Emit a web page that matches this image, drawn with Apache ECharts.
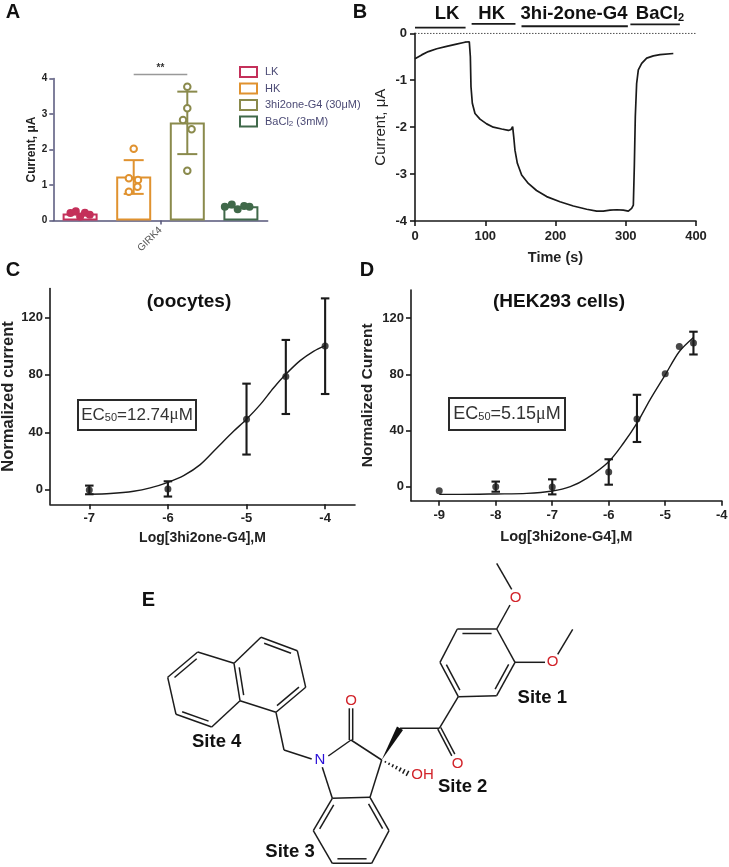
<!DOCTYPE html>
<html>
<head>
<meta charset="utf-8">
<title>GIRK4 figure</title>
<script src="https://cdn.jsdelivr.net/npm/echarts@6/dist/echarts.min.js"></script>
<style>
	html, body {margin:0; padding:0; background:#fff;}
	#main {width:729px; height:867px;}
</style>
</head>
<body>
<div id="main"></div>
<script>
var FONT = '"Liberation Sans", Arial, sans-serif';

// panel A, bar heights and sd
var aNames = ['LK', 'HK', '3hi2one-G4 (30μM)', 'BaCl2 (3mM)'];
var aColors = ['#c4305a', '#e0922f', '#8a8a4c', '#40694a'];
var aMeans = [0.2, 1.24, 2.76, 0.4];
var aErrors = [[], [1.5, 0.75, 1.70], [2.5, 1.87, 3.63], []];
var aPoints = [
	[[0.32, 0.21], [0.42, 0.26], [0.5, 0.11], [0.59, 0.22], [0.68, 0.16]],
	[[1.41, 1.19], [1.5, 2.02], [1.58, 1.14], [1.57, 0.95], [1.41, 0.81]],
	[[2.42, 2.83], [2.5, 3.77], [2.5, 3.16], [2.58, 2.57], [2.5, 1.40]],
	[[3.2, 0.39], [3.33, 0.45], [3.44, 0.32], [3.56, 0.41], [3.66, 0.39]]
];
var aSigBar = [1.5, 2.5, 4.11];
var aCategory = 'GIRK4';

// panel B, current trace [time, current]
var bTrace = [[0,-.54],[9.5,-.46],[19,-.39],[31,-.33],[45,-.28],[59,-.23],[71,-.19],[77.3,-.18],
	[78.8,-.5],[79.7,-1.14],[81.6,-1.49],[85.4,-1.71],[92.5,-1.83],[102,-1.93],[111.5,-2],[123.4,-2.04],
	[133,-2.07],[136.7,-2.05],[139,-1.99],[140.5,-2.2],[142.3,-2.49],[145.7,-2.77],[151.8,-3.02],
	[161.3,-3.2],[173,-3.35],[187.4,-3.48],[206.4,-3.59],[225.4,-3.68],[244.4,-3.75],[258.6,-3.79],
	[268,-3.79],[277.6,-3.77],[287,-3.76],[296.6,-3.77],[303.7,-3.79],[308.4,-3.73],[310.8,-3.66],
	[312.2,-2.84],[313.6,-1.78],[315.5,-1.07],[317.9,-.78],[322.7,-.64],[329.8,-.53],[339.3,-.48],
	[348.8,-.455],[367.7,-.43]];
var bZero = [[0, 0], [400, 0]];
// bars over the trace [from, to, level]
var bPeriods = [[0, 72, 0.12], [80.6, 143, 0.2], [151.6, 303, 0.15], [306.6, 377, 0.19]];

// panel C
var cPoints = [[-7, 0], [-6, 0.7], [-5, 49.1], [-4.5, 78.8], [-4, 100]];
var cErrors = [[-7, -3, 3], [-6, -4.6, 6], [-5, 24.6, 73.9], [-4.5, 52.8, 104.3], [-4, 66.7, 133.2]];
var cCurve = [[-7,-3],[-6.733,-2.5],[-6.436,-.93],[-6.225,1.39],[-6,5.3],[-5.8,9.96],[-5.589,17.6],
	[-5.377,29.2],[-5.165,40.8],[-5,49.1],[-4.826,59.3],[-4.657,70.9],[-4.504,80.2],[-4.318,89.9],
	[-4.148,96.4],[-4,100.4]];
var cXTicks = [-7, -6, -5, -4];
var cYTicks = [0, 40, 80, 120];

// panel D
var dPoints = [[-9,-2.9],[-8,0],[-7,-.2],[-6,10.5],[-5.5,48.2],[-5,80.3],[-4.75,99.8],[-4.5,102.2]];
var dErrors = [[-8,-3.6,3.6],[-7,-5.5,5.2],[-6,1.4,19.5],[-5.5,31.8,65.4],[-4.5,94.1,110.3]];
var dCurve = [[-9,-5.5],[-8.63,-5.5],[-8,-5.2],[-7.45,-4.8],[-7,-3.1],[-6.68,0],[-6.39,5.9],[-6,17.8],
	[-5.74,30.9],[-5.5,45.2],[-5.27,61.8],[-5,79.6],[-4.75,96.2],[-4.5,106.2]];
var dXTicks = [-9, -8, -7, -6, -5, -4];
var dYTicks = [0, 40, 80, 120];

// panel E, structure drawn in its own page-sized coordinate system
var molAtoms = {
	a1:[167.7,677.3], a2:[197.7,652], a3:[234,663.3], a4:[261,637.3], a5:[297.3,650.7], a6:[305.7,687.3],
	a7:[276,712.3], a8:[240,700.7], a9:[211.7,727], a10:[176,714.3], ch2:[284,750], nl:[311.7,759],
	nr:[328.3,756], nb:[322.3,767.3], c2:[351,740], o2:[351,708.3], c3:[381.7,760], c3a:[370,797.3],
	c7a:[332.3,798.3], c7:[313.3,830.7], c6:[332.3,863.3], c5:[371.7,863.3], c4:[389,830.7],
	ch2b:[400,728.3], co:[439.3,728.3], oe:[453.3,755], r1:[458.3,696.7], r2:[440,662.3], r3:[457.3,629],
	r4:[496.7,629], r5:[515,662.3], r6:[496.7,695.7], ot:[510,605], otb:[511.7,589.3], me1:[496.7,563.3],
	om:[545,662.3], omb:[557.7,654.3], me2:[572.7,629.3], oh:[409.3,774.3],
	ringL:[207,689], ringR:[270.5,675], ringB:[351,830], ringM:[478,662]
};
// [from, to, kind, ring]: s single, d double inside ring, c centred double, w wedge, h hash
var molBonds = [
	['a1','a2','d','ringL'],['a2','a3','s'],['a3','a4','s'],['a4','a5','d','ringR'],['a5','a6','s'],
	['a6','a7','d','ringR'],['a7','a8','s'],['a8','a3','d','ringR'],['a8','a9','s'],['a9','a10','d','ringL'],
	['a10','a1','s'],['a7','ch2','s'],['ch2','nl','s'],['nr','c2','s'],['c2','o2','c'],['c2','c3','s'],
	['c3','c3a','s'],['c3a','c7a','s'],['c7a','nb','s'],['c7a','c7','d','ringB'],['c7','c6','s'],
	['c6','c5','d','ringB'],['c5','c4','s'],['c4','c3a','d','ringB'],['c3','ch2b','w'],['ch2b','co','s'],
	['co','oe','c'],['co','r1','s'],['r1','r2','d','ringM'],['r2','r3','s'],['r3','r4','d','ringM'],
	['r4','r5','s'],['r5','r6','d','ringM'],['r6','r1','s'],['r4','ot','s'],['otb','me1','s'],
	['r5','om','s'],['omb','me2','s'],['c3','oh','h']
];
var molLabels = [['N',320,759.5,'#2a10d8'],['O',351,700.5,'#d2232a'],['OH',422.5,775,'#d2232a'],
	['O',457.5,763.5,'#d2232a'],['O',515.7,597.7,'#d2232a'],['O',552.7,662.3,'#d2232a']];

// error bar as a custom series, low and high go through the axis scale
var errorBars = (color, width, cap, xi, yi)=>({
	type:'custom', xAxisIndex:xi, yAxisIndex:yi, silent:true, clip:false, z:4,
	encode:{x:0, y:[1, 2]},
	renderItem:(params, api)=>{
		var lo = api.coord([api.value(0), api.value(1)]);
		var hi = api.coord([api.value(0), api.value(2)]);
		var st = {stroke:color, lineWidth:width};
		var seg = (x1, y1, x2, y2)=>({type:'line', shape:{x1:x1, y1:y1, x2:x2, y2:y2}, style:st});
		return {type:'group', children:[
			seg(lo[0], lo[1], hi[0], hi[1]),
			seg(lo[0]-cap/2, lo[1], lo[0]+cap/2, lo[1]),
			seg(hi[0]-cap/2, hi[1], hi[0]+cap/2, hi[1])
		]};
	}
});

// horizontal segment [from, to, level]
var periodBars = (color, width, xi, yi, data)=>({
	type:'custom', xAxisIndex:xi, yAxisIndex:yi, silent:true, clip:false, data:data,
	encode:{x:[0, 1], y:2},
	renderItem:(params, api)=>{
		var p = api.coord([api.value(0), api.value(2)]);
		var q = api.coord([api.value(1), api.value(2)]);
		return {type:'line', shape:{x1:p[0], y1:p[1], x2:q[0], y2:q[1]}, style:{stroke:color, lineWidth:width}};
	}
});

var axis = (idx, min, max, o)=>{
	var ax = {
		type:'value', gridIndex:idx, min:min, max:max, splitLine:{show:false},
		name:o.name, nameLocation:'middle', nameGap:o.gap,
		nameTextStyle:{fontFamily:FONT, fontWeight:o.nameWeight||'bold', fontSize:o.nameSize, color:o.nameColor||'#222'},
		axisLine:{show:true, onZero:false, lineStyle:{color:o.color||'#1a1a1a', width:o.lw||1.6}},
		axisTick:{show:true, length:o.tick||5, lineStyle:{color:o.color||'#1a1a1a', width:o.lw||1.6}},
		axisLabel:{fontFamily:FONT, fontWeight:o.labelWeight||'bold', fontSize:o.size||13, color:o.labelColor||'#222',
			margin:o.margin, rotate:o.rotate||0, hideOverlap:false}
	};
	if(o.interval)ax.interval = o.interval;
	if(o.ticks){
		ax.axisTick.customValues = o.ticks;
		ax.axisLabel.customValues = o.ticks;
	}
	if(o.formatter)ax.axisLabel.formatter = o.formatter;
	return ax;
};

var txt = (x, y, text, font, fill, rich)=>({
	type:'text', silent:true,
	style:{x:x, y:y, text:text, font:font, fill:fill||'#111', align:'center', verticalAlign:'middle', rich:rich}
});
var subRich = (size, weight, color)=>({sub:{fontFamily:FONT, fontSize:size, fontWeight:weight, fill:color, color:color, verticalAlign:'bottom', padding:[6, 0, 0, 0]}});

var ec50Box = (x, y, w, h, a, b, size)=>([
	{type:'rect', silent:true, shape:{x:x, y:y, width:w, height:h}, style:{fill:'#fff', stroke:'#2a2a2a', lineWidth:2}, z:5},
	{type:'text', silent:true, z:6, style:{x:x+w/2, y:y+h/2, align:'center', verticalAlign:'middle',
		text:'{t|EC}{s|50}{t|='+a+'}{m|μ}{t|'+b+'}',
		rich:{t:{fontFamily:FONT, fontSize:size, fill:'#333', color:'#333'},
			s:{fontFamily:FONT, fontSize:11, fill:'#333', color:'#333', padding:[6, 0, 0, 0]},
			m:{fontFamily:'"Liberation Serif", serif', fontSize:size, fill:'#333', color:'#333'}}}}
]);

var bold = (n)=>'bold '+n+'px '+FONT;

var option = {
	animation:false,
	backgroundColor:'#fff',
	grid:[
		{left:53.3, top:78.5, width:214.4, height:142, outerBoundsMode:'none'},
		{left:415, top:33.3, width:281, height:187.7, outerBoundsMode:'none'},
		{left:50, top:288.6, width:305, height:215.7, outerBoundsMode:'none'},
		{left:411, top:290, width:310.7, height:210.7, outerBoundsMode:'none'},
		{left:0, top:0, width:729, height:867, outerBoundsMode:'none'}
	],
	xAxis:[
		axis(0, 0, 4, {ticks:[2], formatter:()=>aCategory, color:'#55557a', tick:4, size:10, labelWeight:'normal', labelColor:'#555', rotate:45, margin:8, lw:1.5}),
		axis(1, 0, 400, {interval:100, name:'Time (s)', gap:29, nameSize:14.5, margin:9, size:13}),
		axis(2, -7.5, -3.62, {ticks:cXTicks, name:'Log[3hi2one-G4],M', gap:27, nameSize:14, margin:8}),
		axis(3, -9.5, -4, {ticks:dXTicks, name:'Log[3hi2one-G4],M', gap:29, nameSize:14.6, margin:8}),
		{type:'value', gridIndex:4, min:0, max:729, show:false}
	],
	yAxis:[
		axis(0, 0, 4, {interval:1, name:'Current, μA', gap:16, nameSize:12, color:'#55557a', tick:4, size:10, margin:6, lw:1.5}),
		axis(1, -4, 0, {interval:1, name:'Current, μA', gap:27, nameSize:15, nameWeight:'normal', margin:8, size:13}),
		axis(2, -10, 140, {ticks:cYTicks, name:'Normalized current', gap:33, nameSize:16.5, margin:7}),
		axis(3, -10, 140, {ticks:dYTicks, name:'Normalized Current', gap:35, nameSize:15.5, margin:7}),
		{type:'value', gridIndex:4, min:0, max:867, inverse:true, show:false}
	],
	legend:{
		left:239, top:66, padding:0, orient:'vertical', icon:'rect', itemWidth:17, itemHeight:10, itemGap:4.5,
		data:aNames,
		formatter:(n)=>n === 'BaCl2 (3mM)' ? 'BaCl{sub|2} (3mM)' : n,
		textStyle:{fontFamily:FONT, fontSize:11, color:'#4b4a75', padding:[0, 0, 0, 3],
			rich:{sub:{fontFamily:FONT, fontSize:8, color:'#4b4a75', padding:[5, 0, 0, 0]}}}
	},
	graphic:[].concat([
		txt(13, 12, 'A', bold(20)),
		txt(360, 12, 'B', bold(20)),
		txt(13, 270, 'C', bold(20)),
		txt(367, 270, 'D', bold(20)),
		txt(148.5, 600, 'E', bold(20)),
		txt(160.5, 68, '**', bold(10), '#333'),
		txt(447, 14, 'LK', bold(18.5)),
		txt(491.7, 14, 'HK', bold(18.5)),
		txt(574, 14, '3hi-2one-G4', bold(18.5)),
		txt(660, 14, 'BaCl{sub|2}', bold(18.5), '#111', subRich(11, 'bold', '#111')),
		txt(189, 301.5, '(oocytes)', bold(19)),
		txt(559, 301.5, '(HEK293 cells)', bold(19)),
		txt(216.7, 741.5, 'Site 4', bold(18.5)),
		txt(290, 851.5, 'Site 3', bold(18.5)),
		txt(462.7, 786.7, 'Site 2', bold(18.5)),
		txt(542.3, 698.3, 'Site 1', bold(18.5))
	], ec50Box(78, 400, 118, 30, '12.74', 'M', 17), ec50Box(449, 398, 116, 32, '5.15', 'M', 18)),
	series:[]
};

// panel A
aNames.forEach((name, i)=>{
	option.series.push({
		type:'bar', name:name, xAxisIndex:0, yAxisIndex:0, barWidth:35, barGap:'-100%', z:2,
		data:[[i+0.5, aMeans[i]]],
		itemStyle:{color:'#fff', borderColor:aColors[i], borderWidth:2}
	});
	var eb = errorBars(aColors[i], 2, 20, 0, 0);
	eb.data = aErrors[i].length ? [aErrors[i]] : [];
	option.series.push(eb);
	var dense = (i === 0 || i === 3);
	option.series.push({
		type:'scatter', xAxisIndex:0, yAxisIndex:0, symbolSize:dense ? 6 : 6.5, z:5, data:aPoints[i], silent:true,
		itemStyle:{color:dense ? aColors[i] : '#fff', borderColor:aColors[i], borderWidth:2, opacity:1}
	});
});
option.series.push(periodBars('#999', 1.5, 0, 0, [[aSigBar[0], aSigBar[1], aSigBar[2]]]));

// panel B
option.series.push({type:'line', xAxisIndex:1, yAxisIndex:1, data:bTrace, showSymbol:false, silent:true,
	lineStyle:{color:'#1a1a1a', width:1.7}});
option.series.push({type:'line', xAxisIndex:1, yAxisIndex:1, data:bZero, showSymbol:false, silent:true,
	lineStyle:{color:'#333', width:1, type:[1.5, 1.5]}});
option.series.push(periodBars('#1a1a1a', 1.8, 1, 1, bPeriods));

// panels C and D
[[2, cCurve, cPoints, cErrors], [3, dCurve, dPoints, dErrors]].forEach((p)=>{
	option.series.push({type:'line', xAxisIndex:p[0], yAxisIndex:p[0], data:p[1], smooth:0.3, showSymbol:false, silent:true,
		lineStyle:{color:'#1a1a1a', width:1.4}});
	var eb = errorBars('#1a1a1a', 2.1, 8.5, p[0], p[0]);
	eb.data = p[3];
	option.series.push(eb);
	option.series.push({type:'scatter', xAxisIndex:p[0], yAxisIndex:p[0], data:p[2], symbolSize:7, z:5, silent:true,
		itemStyle:{color:'#1a1a1a'}});
});

// panel E
option.series.push({
	type:'custom', xAxisIndex:4, yAxisIndex:4, silent:true, clip:false,
	data:molBonds.map((b, i)=>[molAtoms[b[0]][0], molAtoms[b[0]][1], molAtoms[b[1]][0], molAtoms[b[1]][1], i]),
	encode:{x:[0, 2], y:[1, 3]},
	renderItem:(params, api)=>{
		var b = molBonds[api.value(4)];
		var p = api.coord([api.value(0), api.value(1)]);
		var q = api.coord([api.value(2), api.value(3)]);
		var dx = q[0]-p[0], dy = q[1]-p[1], len = Math.sqrt(dx*dx+dy*dy);
		var nx = -dy/len, ny = dx/len;
		var st = {stroke:'#1c1c1c', lineWidth:1.5};
		var seg = (x1, y1, x2, y2)=>({type:'line', shape:{x1:x1, y1:y1, x2:x2, y2:y2}, style:st});
		if(b[2] === 'w'){
			return {type:'polygon', shape:{points:[p, [q[0]+nx*3.5, q[1]+ny*3.5], [q[0]-nx*3.5, q[1]-ny*3.5]]}, style:{fill:'#111'}};
		}
		if(b[2] === 'h'){
			var kids = [];
			for(var k = 1; k <= 7; k++){
				var t = k/7.5, hw = 0.5+t*2.5;
				kids.push(seg(p[0]+dx*t+nx*hw, p[1]+dy*t+ny*hw, p[0]+dx*t-nx*hw, p[1]+dy*t-ny*hw));
			}
			return {type:'group', children:kids};
		}
		if(b[2] === 'c'){
			return {type:'group', children:[
				seg(p[0]+nx*1.7, p[1]+ny*1.7, q[0]+nx*1.7, q[1]+ny*1.7),
				seg(p[0]-nx*1.7, p[1]-ny*1.7, q[0]-nx*1.7, q[1]-ny*1.7)
			]};
		}
		if(b[2] === 'd'){
			var c = api.coord(molAtoms[b[3]]);
			var mx = (p[0]+q[0])/2, my = (p[1]+q[1])/2;
			var side = ((c[0]-mx)*nx+(c[1]-my)*ny) > 0 ? 1 : -1;
			var off = 4.5*side;
			return {type:'group', children:[
				seg(p[0], p[1], q[0], q[1]),
				seg(p[0]+dx*0.13+nx*off, p[1]+dy*0.13+ny*off, q[0]-dx*0.13+nx*off, q[1]-dy*0.13+ny*off)
			]};
		}
		return seg(p[0], p[1], q[0], q[1]);
	}
});
option.series.push({
	type:'custom', xAxisIndex:4, yAxisIndex:4, silent:true, clip:false,
	data:molLabels.map((l, i)=>[l[1], l[2], i]),
	encode:{x:0, y:1},
	renderItem:(params, api)=>{
		var l = molLabels[api.value(2)];
		var p = api.coord([api.value(0), api.value(1)]);
		return {type:'text', style:{x:p[0], y:p[1], text:l[0], fill:l[3], font:'15px '+FONT, align:'center', verticalAlign:'middle'}};
	}
});

var chart = echarts.init(document.getElementById('main'), null, {renderer:'canvas'});
chart.setOption(option);
</script>
</body>
</html>
